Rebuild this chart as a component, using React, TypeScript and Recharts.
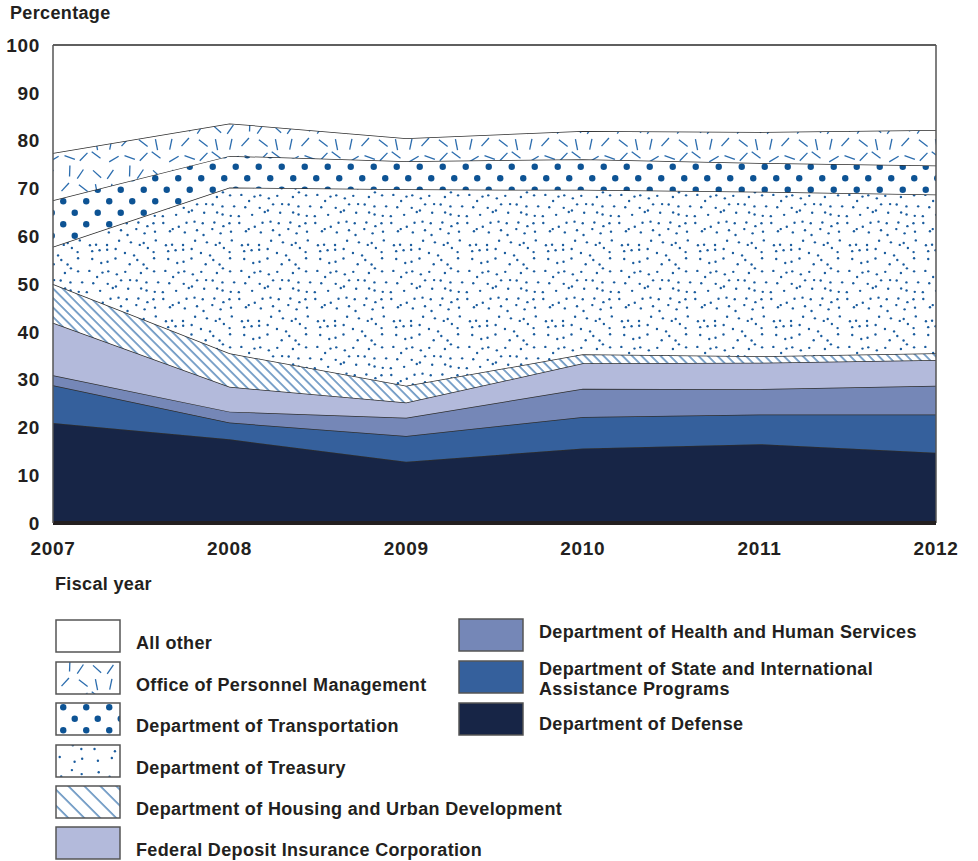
import React from "react";
import { AreaChart, Area, XAxis, YAxis, ReferenceLine } from "recharts";

const years = ["2007", "2008", "2009", "2010", "2011", "2012"];
const yTicks = [0, 10, 20, 30, 40, 50, 60, 70, 80, 90, 100];

// percent of total, bottom layer first
const defense = [20.9, 17.5, 12.8, 15.6, 16.5, 14.7];
const stateIntl = [7.9, 3.5, 5.4, 6.6, 6.2, 8.0];
const hhs = [2.1, 2.3, 3.8, 5.9, 5.3, 6.0];
const fdic = [11.0, 5.2, 3.2, 5.3, 5.5, 5.4];
const hud = [8.1, 7.0, 3.5, 1.9, 1.4, 1.4];
const treasury = [7.8, 34.7, 41.1, 34.4, 34.4, 33.2];
const transportation = [9.7, 6.6, 5.9, 6.4, 6.0, 6.1];
const opm = [9.9, 6.8, 4.8, 5.9, 6.5, 7.4];
const allOther = [22.6, 16.4, 19.5, 18.0, 18.2, 17.8];

const data = years.map((year, i) => ({
  year,
  defense: defense[i],
  stateIntl: stateIntl[i],
  hhs: hhs[i],
  fdic: fdic[i],
  hud: hud[i],
  treasury: treasury[i],
  transportation: transportation[i],
  opm: opm[i],
  allOther: allOther[i],
}));

const INK = "#231f20";
const EDGE = "#2e2e2e";
const PAT = "#1a5c9e";
const FONT = "'Liberation Sans', Arial, sans-serif";

// jittered grid for the texture tiles (decoration only, not data)
function hash(n: number) {
  const v = Math.sin(n * 12.9898 + 78.233) * 43758.5453;
  return v - Math.floor(v);
}
function jitterGrid(cols: number, rows: number, cell: number, jitter: number, seed: number) {
  const pts: number[][] = [];
  for (let r = 0; r < rows; r++) {
    for (let c = 0; c < cols; c++) {
      const k = seed * 1000 + r * cols + c;
      pts.push([
        c * cell + cell / 2 + (hash(k) - 0.5) * 2 * jitter,
        r * cell + cell / 2 + (hash(k + 0.37) - 0.5) * 2 * jitter,
        hash(k + 0.71) * Math.PI,
      ]);
    }
  }
  return pts;
}

const speckle = jitterGrid(8, 8, 9.5, 3.8, 1);
const confetti = jitterGrid(4, 3, 15, 2.5, 2);
const speckleLegend = jitterGrid(5, 3, 13, 4.5, 3);

function Patterns({ prefix, hatch }: { prefix: string; hatch: number }) {
  const isLegend = prefix === "lg";
  return (
    <defs>
      <pattern id={`${prefix}-opm`} width={60} height={45} patternUnits="userSpaceOnUse">
        <rect width={60} height={45} fill="#fff" />
        {confetti.map(([x, y, a], i) => (
          <line
            key={i}
            x1={x - 5.5 * Math.cos(a)}
            y1={y - 5.5 * Math.sin(a)}
            x2={x + 5.5 * Math.cos(a)}
            y2={y + 5.5 * Math.sin(a)}
            stroke="#2a6cae"
            strokeWidth={1.3}
          />
        ))}
      </pattern>
      <pattern id={`${prefix}-dots`} width={23} height={23} patternUnits="userSpaceOnUse">
        <rect width={23} height={23} fill="#fff" />
        <circle cx={5.75} cy={5.75} r={3.2} fill="#0d5394" />
        <circle cx={17.25} cy={17.25} r={3.2} fill="#0d5394" />
      </pattern>
      <pattern
        id={`${prefix}-treas`}
        width={isLegend ? 65 : 76}
        height={isLegend ? 39 : 76}
        patternUnits="userSpaceOnUse"
      >
        <rect width={76} height={76} fill="#fff" />
        {(isLegend ? speckleLegend : speckle).map(([x, y], i) => (
          <circle key={i} cx={x} cy={y} r={1.2} fill={PAT} />
        ))}
      </pattern>
      <pattern
        id={`${prefix}-hud`}
        width={hatch}
        height={hatch}
        patternUnits="userSpaceOnUse"
        patternTransform="rotate(-45)"
      >
        <rect width={hatch} height={hatch} fill="#fff" />
        <line x1={1} y1={0} x2={1} y2={hatch} stroke="#2a69a8" strokeWidth={1.2} />
      </pattern>
    </defs>
  );
}

const tickStyle = { fontSize: 19, fontWeight: 700, fill: INK, fontFamily: FONT, letterSpacing: 0.7 };
const labelProps = { fontSize: 18, fontWeight: 700, fill: INK, fontFamily: FONT, letterSpacing: 0.35 };

const leftLegend = [
  { label: "All other", fill: "#fff", top: 620 },
  { label: "Office of Personnel Management", fill: "url(#lg-opm)", top: 662 },
  { label: "Department of Transportation", fill: "url(#lg-dots)", top: 703 },
  { label: "Department of Treasury", fill: "url(#lg-treas)", top: 745 },
  { label: "Department of Housing and Urban Development", fill: "url(#lg-hud)", top: 786 },
  { label: "Federal Deposit Insurance Corporation", fill: "#b3badb", top: 827 },
];

const rightLegend = [
  { lines: ["Department of Health and Human Services"], base: [638], fill: "#7587b7", top: 619 },
  {
    lines: ["Department of State and International", "Assistance Programs"],
    base: [675, 695],
    fill: "#35609c",
    top: 661,
  },
  { lines: ["Department of Defense"], base: [730], fill: "#172546", top: 703 },
];

export default function App() {
  const areaProps = {
    type: "linear" as const,
    stackId: "1",
    stroke: EDGE,
    strokeWidth: 1.5,
    dot: false,
    activeDot: false,
    isAnimationActive: false,
  };

  return (
    <div style={{ position: "absolute", left: 0, top: 0, width: 978, height: 861, fontFamily: FONT }}>
      <AreaChart width={978} height={600} data={data} margin={{ top: 45, right: 42, bottom: 0, left: 0 }}>
        <Patterns prefix="ch" hatch={6.7} />
        <Area {...areaProps} dataKey="defense" fill="#172546" fillOpacity={1} />
        <Area {...areaProps} dataKey="stateIntl" fill="#35609c" fillOpacity={1} />
        <Area {...areaProps} dataKey="hhs" fill="#7587b7" fillOpacity={1} />
        <Area {...areaProps} dataKey="fdic" fill="#b3badb" fillOpacity={1} />
        <Area {...areaProps} dataKey="hud" fill="url(#ch-hud)" fillOpacity={1} />
        <Area {...areaProps} dataKey="treasury" fill="url(#ch-treas)" fillOpacity={1} />
        <Area {...areaProps} dataKey="transportation" fill="url(#ch-dots)" fillOpacity={1} />
        <Area {...areaProps} dataKey="opm" fill="url(#ch-opm)" fillOpacity={1} />
        <Area {...areaProps} dataKey="allOther" fill="#fff" fillOpacity={1} stroke="#555" />
        <ReferenceLine y={100} stroke="#555" strokeWidth={1.5} ifOverflow="visible" />
        <ReferenceLine x="2012" stroke="#555" strokeWidth={1.5} ifOverflow="visible" />
        <XAxis
          dataKey="year"
          height={77}
          tickLine={false}
          tickSize={0}
          tickMargin={19}
          axisLine={{ stroke: INK, strokeWidth: 4 }}
          tick={tickStyle}
          interval={0}
        />
        <YAxis
          width={53}
          domain={[0, 100]}
          ticks={yTicks}
          tickLine={false}
          tickSize={0}
          tickMargin={13}
          axisLine={{ stroke: "#555", strokeWidth: 1.5 }}
          tick={tickStyle}
          interval={0}
        />
      </AreaChart>

      <svg
        width={978}
        height={861}
        style={{ position: "absolute", left: 0, top: 0, pointerEvents: "none" }}
      >
        <Patterns prefix="lg" hatch={11.3} />
        <text x={10} y={19} {...labelProps}>
          Percentage
        </text>
        <text x={55} y={590} {...labelProps}>
          Fiscal year
        </text>
        {leftLegend.map((item) => (
          <g key={item.label}>
            <rect x={56} y={item.top} width={64} height={32} fill={item.fill} stroke="#555" strokeWidth={1.5} />
            <text x={136} y={item.top + 29} {...labelProps}>
              {item.label}
            </text>
          </g>
        ))}
        {rightLegend.map((item) => (
          <g key={item.lines[0]}>
            <rect x={459} y={item.top} width={64} height={32} fill={item.fill} stroke="#555" strokeWidth={1.5} />
            {item.lines.map((line, j) => (
              <text key={line} x={539} y={item.base[j]} {...labelProps}>
                {line}
              </text>
            ))}
          </g>
        ))}
      </svg>
    </div>
  );
}
